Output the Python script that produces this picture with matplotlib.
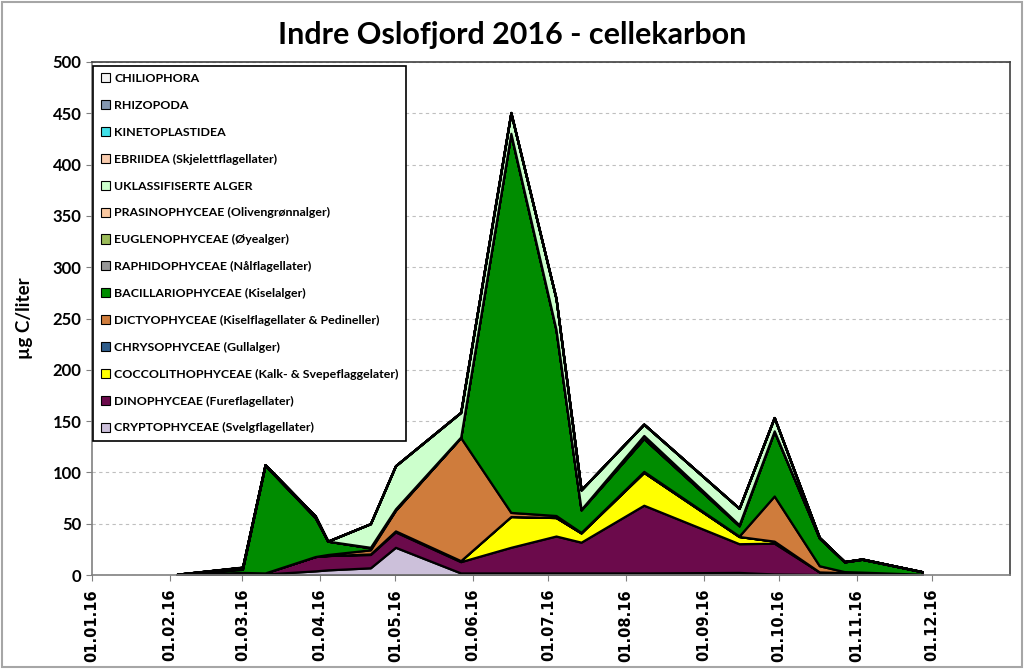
import numpy as np
import pandas as pd
import matplotlib
matplotlib.use("Agg")
import matplotlib.pyplot as plt
import matplotlib.dates as mdates
from matplotlib.patches import Patch, Rectangle

# =========================
# DATA (µg C/liter)
# =========================
dates = pd.to_datetime([
    "2016-02-04", "2016-03-01", "2016-03-10", "2016-03-30", "2016-04-04",
    "2016-04-21", "2016-05-01", "2016-05-27", "2016-06-16", "2016-07-04",
    "2016-07-14", "2016-08-08", "2016-09-15", "2016-09-29", "2016-10-17",
    "2016-10-27", "2016-11-03", "2016-11-27",
])

cryptophyceae = [0.3, 1, 1, 4, 5, 7, 27, 2, 2, 2, 2, 2, 2.5, 1, 0.5, 0.3, 0.3, 0.2]
dinophyceae = [0.3, 1, 1, 14, 14, 13, 15, 11, 25, 36, 30, 66, 28, 30, 2.5, 2, 2, 0.5]
coccolithophyceae = [0, 0, 0, 0, 0, 0.5, 1, 1, 30, 18, 9, 32, 7, 2, 0, 0, 0, 0]
chrysophyceae = [0, 0.5, 0, 0, 0, 0, 0, 0, 0, 0, 0, 0, 0, 0, 0, 0, 0, 0]
dictyophyceae = [0, 0, 0, 0, 1, 4, 20, 120, 4, 2, 0.5, 1, 0.5, 44, 6, 1, 0.5, 0]
bacillariophyceae = [0.2, 3, 105, 38, 13, 2, 0.5, 0, 369, 181, 22, 32, 10, 63, 27, 9.5, 12.5, 2.5]
raphidophyceae = [0, 0.5, 0, 0, 0, 0, 0, 0, 0, 0, 0, 0, 0, 0, 0, 0, 0, 0]
euglenophyceae = [0, 0, 0, 0, 0, 0, 0, 0, 0, 0, 0, 0, 0, 0, 0, 0, 0, 0]
prasinophyceae = [0, 0.5, 0, 0.5, 0, 0.5, 1, 0.5, 0.5, 0.5, 0.5, 3, 1, 0.5, 0, 0, 0, 0]
uklassifiserte = [0, 1, 0.5, 1, 0, 23, 42, 24, 20, 30, 19, 11, 16, 13, 0.5, 0.3, 0.3, 0]
ebriidea = [0] * 18
kinetoplastidea = [0] * 18
rhizopoda = [0] * 18
chiliophora = [0, 0.3, 0, 0, 0, 0, 0, 0, 0.5, 0, 0, 0, 0, 0, 0, 0, 0, 0]

# bottom -> top stacking order
series = [
    ("CRYPTOPHYCEAE (Svelgflagellater)", cryptophyceae, "#CCC0DA"),
    ("DINOPHYCEAE (Fureflagellater)", dinophyceae, "#6B0A4B"),
    ("COCCOLITHOPHYCEAE (Kalk- & Svepeflaggelater)", coccolithophyceae, "#FFFF00"),
    ("CHRYSOPHYCEAE (Gullalger)", chrysophyceae, "#2E5C8A"),
    ("DICTYOPHYCEAE (Kiselflagellater & Pedineller)", dictyophyceae, "#CF7C3C"),
    ("BACILLARIOPHYCEAE (Kiselalger)", bacillariophyceae, "#008C00"),
    ("RAPHIDOPHYCEAE (Nålflagellater)", raphidophyceae, "#969696"),
    ("EUGLENOPHYCEAE (Øyealger)", euglenophyceae, "#9BBB59"),
    ("PRASINOPHYCEAE (Olivengrønnalger)", prasinophyceae, "#FAC8A0"),
    ("UKLASSIFISERTE ALGER", uklassifiserte, "#CCFFCC"),
    ("EBRIIDEA (Skjelettflagellater)", ebriidea, "#F8CBAD"),
    ("KINETOPLASTIDEA", kinetoplastidea, "#40E0E8"),
    ("RHIZOPODA", rhizopoda, "#8497B0"),
    ("CHILIOPHORA", chiliophora, "#F2F2F2"),
]

# =========================
# PLOT
# =========================
fig = plt.figure(figsize=(10.24, 6.69), dpi=100)
ax = fig.add_axes([92 / 1024, 1 - 575 / 669, 918 / 1024, 513 / 669])

ax.stackplot(
    dates,
    [s[1] for s in series],
    colors=[s[2] for s in series],
    edgecolor="black",
    linewidth=1.6,
)

ax.set_xlim(pd.Timestamp("2016-01-01"), pd.Timestamp("2017-01-01"))
ax.set_ylim(0, 500)
ax.set_yticks(np.arange(0, 501, 50))

month_ticks = pd.date_range("2016-01-01", "2016-12-01", freq="MS")
ax.set_xticks(month_ticks)
ax.xaxis.set_major_formatter(mdates.DateFormatter("%d.%m.%y"))
for lab in ax.get_xticklabels():
    lab.set_rotation(90)
    lab.set_fontweight("bold")
    lab.set_fontsize(10.5)
    lab.set_family("DejaVu Sans")

for lab in ax.get_yticklabels():
    lab.set_fontweight("bold")
    lab.set_fontsize(12)
    lab.set_family("Lato")

ax.tick_params(axis="both", direction="out", length=4, width=0.8, color="#808080")
ax.tick_params(axis="x", pad=6)

ax.yaxis.grid(True, linestyle=(0, (3, 3)), color="#BFBFBF", linewidth=0.8)
ax.set_axisbelow(True)

for sp in ax.spines.values():
    sp.set_color("#404040")
    sp.set_linewidth(1.2)
ax.spines["bottom"].set_color("#808080")
ax.spines["left"].set_color("#808080")

ax.set_ylabel("µg C/liter", fontsize=13.5, fontweight="bold", family="Lato", labelpad=14)

fig.text(0.5, 1 - 35 / 669, "Indre Oslofjord 2016 - cellekarbon", ha="center", va="center",
         fontsize=22, fontweight="bold", family="Lato")

# =========================
# LEGEND
# =========================
legend_items = [
    Patch(facecolor=c, edgecolor="black", linewidth=0.8, label=name)
    for name, _, c in reversed(series)
]
leg = ax.legend(
    handles=legend_items,
    loc="upper left",
    bbox_to_anchor=(0.0, 0.995),
    frameon=True,
    fancybox=False,
    edgecolor="black",
    framealpha=1,
    prop={"family": "Lato", "weight": "bold", "size": 8.9},
    handlelength=0.75,
    handleheight=0.75,
    handletextpad=0.35,
    labelspacing=1.28,
    borderpad=0.6,
    borderaxespad=0.1,
)
leg.get_frame().set_linewidth(1.2)

# outer chart border
fig.patches.append(Rectangle((0.002, 0.003), 0.996, 0.994, transform=fig.transFigure,
                             fill=False, edgecolor="#A6A6A6", linewidth=1.5))

fig.savefig("out.png", dpi=100)
plt.close(fig)
